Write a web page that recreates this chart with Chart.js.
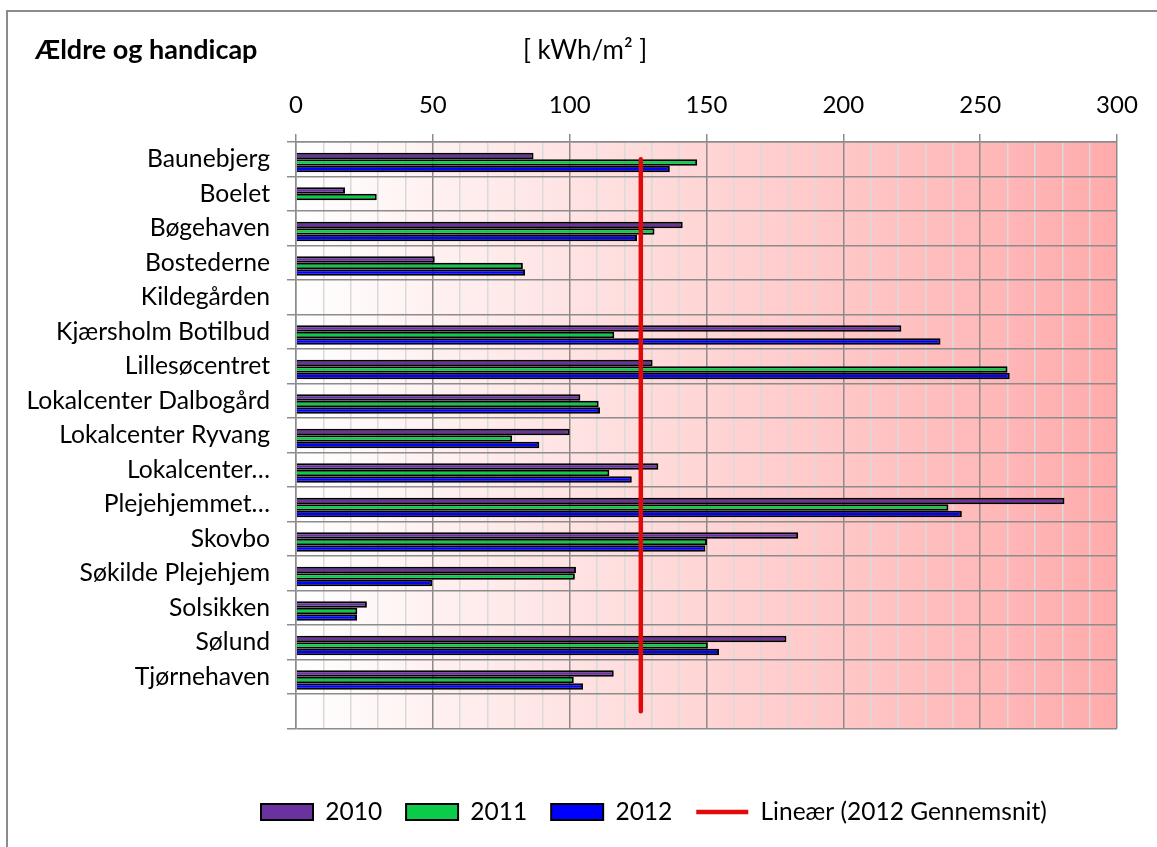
<!DOCTYPE html>
<html>
<head>
<meta charset="utf-8">
<script src="https://cdn.jsdelivr.net/npm/chart.js@4.4.1/dist/chart.umd.min.js"></script>
<style>
  html, body { margin: 0; padding: 0; background: #ffffff; }
  #wrap { width: 1157px; height: 847px; position: relative; }
</style>
</head>
<body>
<div id="wrap"><canvas id="c" width="1157" height="847"></canvas></div>
<script>
// ---------- DATA ----------
const categories = ['Baunebjerg', 'Boelet', 'Bøgehaven', 'Bostederne', 'Kildegården',
  'Kjærsholm Botilbud', 'Lillesøcentret', 'Lokalcenter Dalbogård', 'Lokalcenter Ryvang',
  'Lokalcenter…', 'Plejehjemmet…', 'Skovbo', 'Søkilde Plejehjem', 'Solsikken', 'Sølund',
  'Tjørnehaven', ''];
const values2010 = [86.8, 17.9, 141.3, 50.7, null, 221.2, 130.3, 103.9, 100.0, 132.4, 280.8, 183.5, 102.3, 25.9, 179.2, 116.1, null];
const values2011 = [146.6, 29.5, 131.0, 82.9, null, 116.3, 260.0, 110.6, 79.0, 114.5, 238.4, 150.2, 101.9, 22.4, 150.5, 101.5, null];
const values2012 = [136.6, null, 124.6, 83.7, null, 235.5, 260.8, 111.1, 88.9, 122.7, 243.3, 149.6, 49.8, 22.3, 154.6, 104.9, null];
// hidden series "2012 Gennemsnit" (no fill, only its linear trendline is shown)
const gennemsnit2012 = [126, 126, 126, 126, 126, 126, 126, 126, 126, 126, 126, 126, 126, 126, 126, 126, null];
const trend2012 = [126, 126, 126, 126, 126, 126, 126, 126, 126, 126, 126, 126, 126, 126, 126, 126, 126];
const xTickLabels = [0, 50, 100, 150, 200, 250, 300];
const seriesNames = ['2010', '2011', '2012', 'Lineær (2012 Gennemsnit)', '2012 Gennemsnit'];
const chartTitle = 'Ældre og handicap';
const unitLabel = '[ kWh/m² ]';

// ---------- STYLE ----------
const FONT = 'Lato';
const FS_CAT = 24.7;
const FS_TICK = 24;
const FS_LEG = 24.5;
const FS_TITLE = 27;
const FS_UNIT = 26;
const LEG_PAD = 24;
const GRID_MAJOR = '#8c8c8c';
const GRID_MINOR = '#dadada';

Chart.defaults.font.family = FONT;
Chart.defaults.color = '#000';

const decorPlugin = {
  id: 'decor',
  beforeDraw(chart) {
    const { ctx, chartArea: a } = chart;
    ctx.save();
    ctx.fillStyle = '#ffffff';
    ctx.fillRect(0, 0, chart.width, chart.height);
    // outer chart frame
    ctx.strokeStyle = '#8c8c8c';
    ctx.lineWidth = 2;
    ctx.strokeRect(7, 11, chart.width + 40, chart.height + 40);
    // plot area gradient
    const g = ctx.createLinearGradient(a.left, 0, a.right, 0);
    g.addColorStop(0, '#ffffff');
    g.addColorStop(1, '#ffabab');
    ctx.fillStyle = g;
    ctx.fillRect(a.left, a.top, a.right - a.left, a.bottom - a.top);
    // titles
    ctx.fillStyle = '#000';
    ctx.textBaseline = 'alphabetic';
    ctx.textAlign = 'left';
    ctx.font = 'bold ' + FS_TITLE + 'px ' + FONT;
    ctx.fillText(chartTitle, 35, 59);
    ctx.font = FS_UNIT + 'px ' + FONT;
    ctx.fillText(unitLabel, 523, 59);
    ctx.restore();
  },
  afterLayout(chart) {
    const L = chart.legend;
    if (!L) return;
    const h = L.height;
    L.top = 812 - LEG_PAD - FS_LEG / 2;
    L.bottom = L.top + h;
    L.left = 261 - LEG_PAD;
    L.right = chart.width;
  }
};

const isMajor = (v) => xTickLabels.includes(v);

new Chart(document.getElementById('c'), {
  type: 'bar',
  data: {
    labels: categories,
    datasets: [
      { label: seriesNames[4], data: gennemsnit2012, backgroundColor: 'rgba(0,0,0,0)', borderColor: 'rgba(0,0,0,0)', borderWidth: 0, pointStyle: 'rect' },
      { label: seriesNames[0], data: values2010, backgroundColor: '#6a329f', borderColor: '#000', borderWidth: 2, pointStyle: 'rect' },
      { label: seriesNames[1], data: values2011, backgroundColor: '#0bcb4a', borderColor: '#000', borderWidth: 2, pointStyle: 'rect' },
      { label: seriesNames[2], data: values2012, backgroundColor: '#0000ff', borderColor: '#000', borderWidth: 2, pointStyle: 'rect' },
      { type: 'line', label: seriesNames[3], data: trend2012, indexAxis: 'y', borderColor: '#e00a0a', backgroundColor: '#e00a0a',
        borderWidth: 4.5, borderCapStyle: 'round', pointRadius: 0, pointHoverRadius: 0, pointStyle: 'line', order: -1, fill: false }
    ]
  },
  options: {
    indexAxis: 'y',
    responsive: false,
    maintainAspectRatio: false,
    animation: false,
    devicePixelRatio: 1,
    layout: { padding: { left: 10, right: 40, top: 60, bottom: 60 } },
    datasets: { bar: { categoryPercentage: 0.76, barPercentage: 1.0 } },
    scales: {
      x: {
        position: 'top',
        min: 0, max: 300,
        ticks: {
          stepSize: 10, autoSkip: false, maxRotation: 0, padding: 14,
          font: { size: FS_TICK }, color: '#000',
          callback: (v) => isMajor(v) ? String(v) : ''
        },
        grid: {
          color: (c) => (c.tick && isMajor(c.tick.value)) ? GRID_MAJOR : GRID_MINOR,
          tickColor: (c) => (c.tick && isMajor(c.tick.value)) ? GRID_MAJOR : 'rgba(0,0,0,0)',
          lineWidth: 1.5, tickLength: 8
        },
        border: { color: GRID_MAJOR, width: 1.5 },
        afterFit(s) { s.height = 82; }
      },
      y: {
        offset: true,
        ticks: { font: { size: FS_CAT }, color: '#000', padding: 17, autoSkip: false },
        grid: { offset: true, color: GRID_MAJOR, tickColor: GRID_MAJOR, lineWidth: 1.5, tickLength: 9 },
        border: { color: GRID_MAJOR, width: 1.5 },
        afterFit(s) { s.width = 286; }
      }
    },
    plugins: {
      title: { display: false },
      tooltip: { enabled: false },
      legend: {
        position: 'bottom',
        align: 'start',
        labels: {
          usePointStyle: true, pointStyleWidth: 52, boxHeight: 16, padding: LEG_PAD,
          font: { size: FS_LEG }, color: '#000',
          filter: (item) => item.text !== seriesNames[4],
          sort: (a, b) => a.datasetIndex - b.datasetIndex
        }
      }
    }
  },
  plugins: [decorPlugin]
});
</script>
</body>
</html>
